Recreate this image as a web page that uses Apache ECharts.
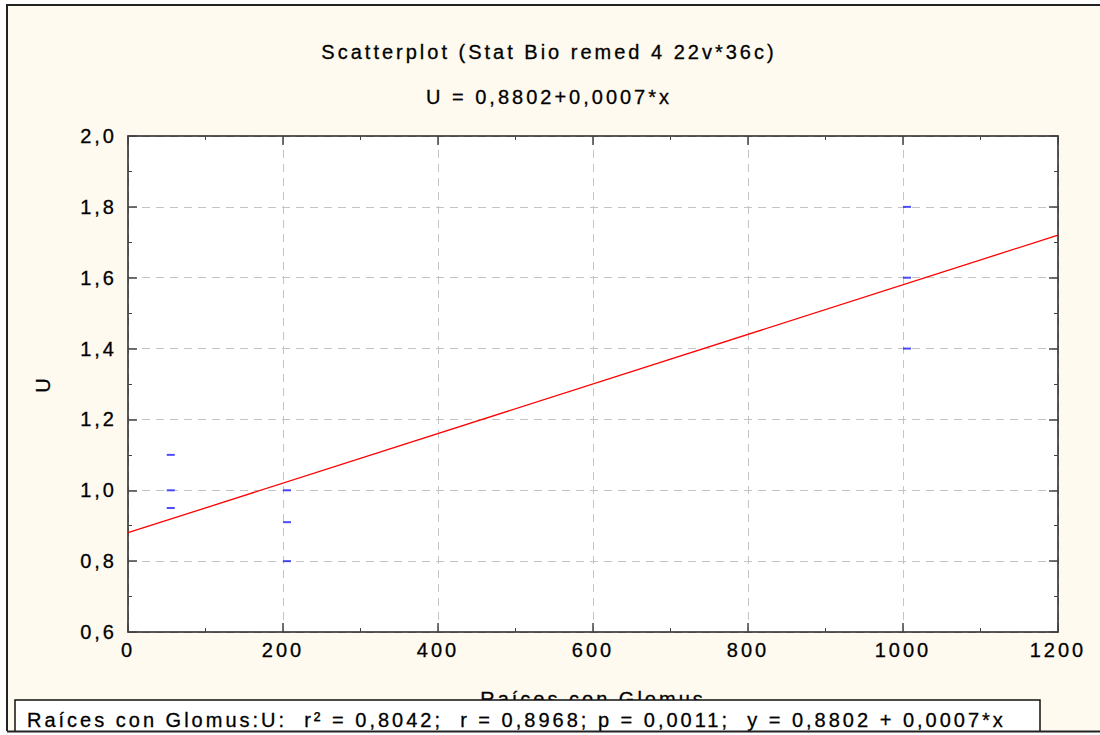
<!DOCTYPE html>
<html>
<head>
<meta charset="utf-8">
<script src="https://cdn.jsdelivr.net/npm/echarts@6/dist/echarts.min.js"></script>
<style>
  html, body { margin: 0; padding: 0; background: #ffffff; }
  #chart { width: 1100px; height: 735px; }
  /* wide, spaced and slightly heavy lettering for every label of the chart */
  #chart text { letter-spacing: 3px; stroke: #000000; stroke-width: 0.3px; }
</style>
</head>
<body>
<div id="chart"></div>
<script>
// Raíces con Glomus (x) against U (y)
const raicesGlomus = [50, 50, 50, 200, 200, 200, 1000, 1000, 1000];
const valoresU     = [1.10, 1.00, 0.95, 1.00, 0.91, 0.80, 1.80, 1.60, 1.40];

// Fitted line: U = intercept + slope * x
const intercept = 0.8802;
const slope = 0.0007;
const lineX = [0, 1200];

const xTicks = { min: 0, max: 1200, interval: 200 };
const yTicks = { min: 0.6, max: 2.0, interval: 0.2 };

const titleText = 'Scatterplot (Stat Bio remed 4 22v*36c)';
const subtitleText = 'U = 0,8802+0,0007*x';
const xName = 'Raíces con Glomus';
const yName = 'U';
const statsText = 'Raíces con Glomus:U:  r² = 0,8042;  r = 0,8968; p = 0,0011;  y = 0,8802 + 0,0007*x';

const FONT = 'Liberation Sans';
const FONT_SIZE = 20;
const INK = '#000000';
const cream = '#fefaef';

const points = raicesGlomus.map((x, i) => [x, valoresU[i]]);
const fitLine = lineX.map(x => [x, intercept + slope * x]);

const comma = v => v.toFixed(1).replace('.', ',');
const plain = v => String(v);

const grid = { left: 128, top: 136, width: 930, height: 496 };
const font = FONT_SIZE + 'px "' + FONT + '"';

function axisCommon(extra) {
  return Object.assign({
    axisLine: { show: true, onZero: false, lineStyle: { color: '#222', width: 1.5 } },
    axisTick: { show: true, inside: true, length: 9, lineStyle: { color: '#444', width: 1.5 } },
    minorTick: { show: true, splitNumber: 2, length: 4, lineStyle: { color: '#444', width: 1 } },
    splitLine: { show: false },
    axisLabel: { show: false }
  }, extra);
}

const chart = echarts.init(document.getElementById('chart'), null, { renderer: 'svg' });

chart.setOption({
  backgroundColor: '#ffffff',
  animation: false,
  graphic: [
    // cream page with dark frame
    { type: 'rect', z: -10, shape: { x: 7, y: 5, width: 1110, height: 727 },
      style: { fill: cream, stroke: '#222', lineWidth: 2 } },
    // plot area
    { type: 'rect', z: -9, shape: { x: grid.left, y: grid.top, width: grid.width, height: grid.height },
      style: { fill: '#ffffff' } },
    { type: 'text', x: 549, y: 52, z: 5,
      style: { text: titleText, font: font, fill: INK, align: 'center', verticalAlign: 'middle' } },
    { type: 'text', x: 549, y: 97, z: 5,
      style: { text: subtitleText, font: font, fill: INK, align: 'center', verticalAlign: 'middle' } },
    // statistics box
    { type: 'rect', z: 20, shape: { x: 15, y: 700, width: 1025, height: 40 },
      style: { fill: '#ffffff', stroke: '#111', lineWidth: 1.5 } },
    { type: 'text', z: 21, x: 27, y: 720,
      style: { text: statsText, font: font, fill: INK, align: 'left', verticalAlign: 'middle' } },
    // frame bottom edge over the box
    { type: 'rect', z: 22, shape: { x: 0, y: 731, width: 1100, height: 4 },
      style: { fill: '#ffffff' } },
    { type: 'line', z: 23, shape: { x1: 7, y1: 731.5, x2: 1100, y2: 731.5 },
      style: { stroke: '#222', lineWidth: 2 } }
  ],
  grid: Object.assign({ containLabel: false }, grid),
  xAxis: [
    axisCommon({
      type: 'value', position: 'bottom',
      min: xTicks.min, max: xTicks.max, interval: xTicks.interval,
      name: xName, nameLocation: 'middle', nameGap: 57,
      nameTextStyle: { fontFamily: FONT, fontSize: FONT_SIZE, color: INK },
      axisLabel: { show: true, margin: 8, fontFamily: FONT, fontSize: FONT_SIZE, color: INK,
                   formatter: plain },
      splitLine: { show: true, lineStyle: { color: '#c4c4c4', type: [8, 6], width: 1 } }
    }),
    axisCommon({
      type: 'value', position: 'top',
      min: xTicks.min, max: xTicks.max, interval: xTicks.interval
    })
  ],
  yAxis: [
    axisCommon({
      type: 'value', position: 'left',
      min: yTicks.min, max: yTicks.max, interval: yTicks.interval,
      name: yName, nameLocation: 'middle', nameGap: 75, nameRotate: 90,
      nameTextStyle: { fontFamily: FONT, fontSize: FONT_SIZE, color: INK },
      axisLabel: { show: true, margin: 11, fontFamily: FONT, fontSize: FONT_SIZE, color: INK,
                   formatter: comma },
      splitLine: { show: true, lineStyle: { color: '#c4c4c4', type: [8, 6], width: 1 } }
    }),
    axisCommon({
      type: 'value', position: 'right',
      min: yTicks.min, max: yTicks.max, interval: yTicks.interval
    })
  ],
  series: [
    {
      type: 'line', name: 'ajuste', data: fitLine, xAxisIndex: 0, yAxisIndex: 0,
      showSymbol: false, symbol: 'none', z: 3,
      lineStyle: { color: '#ff0000', width: 1.3 }
    },
    {
      type: 'scatter', name: 'U', data: points, xAxisIndex: 0, yAxisIndex: 0,
      symbol: 'rect', symbolSize: [8, 2], symbolOffset: [4, 0], z: 4,
      itemStyle: { color: '#2020ff' }
    }
  ]
});
</script>
</body>
</html>
